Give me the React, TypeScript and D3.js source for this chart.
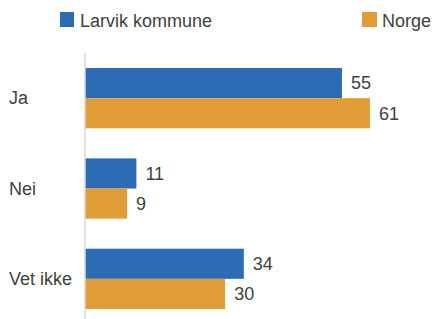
import React from 'react';
import * as d3 from 'd3';

const categories = ['Ja', 'Nei', 'Vet ikke'];
const seriesNames = ['Larvik kommune', 'Norge'];
const larvik = [55, 11, 34];
const norge = [61, 9, 30];
const colors = ['#2b6cb4', '#e09c36'];

export default function App() {
  const width = 432;
  const height = 319;
  const left = 85;
  const textColor = '#404040';

  const x = d3.scaleLinear().domain([0, 70]).range([left, left + 327]);
  const y = d3
    .scaleBand()
    .domain(categories)
    .range([53, 324])
    .paddingInner(0.333)
    .paddingOuter(0.1665);
  const inner = d3
    .scaleBand()
    .domain(seriesNames)
    .range([0, y.bandwidth()]);

  const series = [larvik, norge];

  return (
    <svg
      width={width}
      height={height}
      style={{ position: 'absolute', left: 0, top: 0, fontFamily: 'Liberation Sans, Arial, sans-serif' }}
    >
      <rect width={width} height={height} fill="#fff" />
      {/* legend */}
      <rect x={60} y={12} width={14} height={15} fill={colors[0]} />
      <text x={80} y={27} fontSize={18} fill={textColor}>{seriesNames[0]}</text>
      <rect x={362} y={12} width={15} height={15} fill={colors[1]} />
      <text x={382} y={27} fontSize={18} fill={textColor}>{seriesNames[1]}</text>

      {categories.map((c, i) => (
        <g key={c}>
          <text
            x={9}
            y={(y(c) as number) + y.bandwidth() / 2}
            dy="0.35em"
            fontSize={18}
            fill={textColor}
          >
            {c}
          </text>
          {series.map((s, j) => {
            const by = (y(c) as number) + (inner(seriesNames[j]) as number);
            return (
              <g key={j}>
                <rect
                  x={x(0)}
                  y={by}
                  width={x(s[i]) - x(0)}
                  height={inner.bandwidth()}
                  fill={colors[j]}
                />
                <text
                  x={x(s[i]) + 9}
                  y={by + inner.bandwidth() / 2}
                  dy="0.35em"
                  fontSize={18}
                  fill={textColor}
                >
                  {s[i]}
                </text>
              </g>
            );
          })}
        </g>
      ))}
      <line x1={left} x2={left} y1={53} y2={height} stroke="#d9d9d9" strokeWidth={1.5} />
    </svg>
  );
}
